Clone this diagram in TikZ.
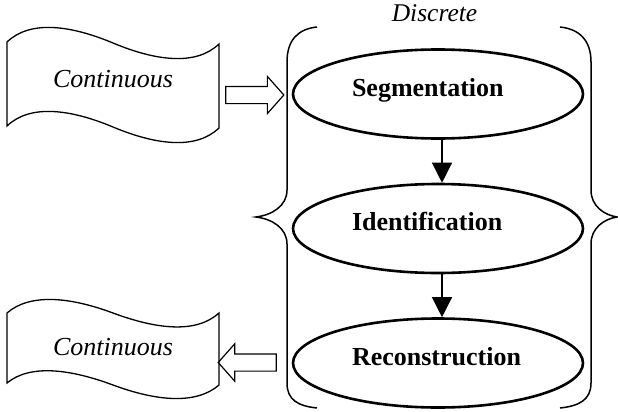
\documentclass[tikz,border=0pt]{standalone}
\usepackage{fontspec}
\setmainfont{Liberation Serif}
\usetikzlibrary{shapes.geometric,shapes.arrows,arrows.meta}

\begin{document}
\begin{tikzpicture}[x=1pt,y=-1pt]
  \tikzset{
    StageStyle/.style = { ellipse, draw, line width=2.6pt,
      minimum width=290pt, minimum height=89pt, inner sep=0pt,
      text width=172pt, align=left, text height=18pt, text depth=14pt,
      font=\fontsize{26}{30}\selectfont\bfseries },
    SignalStyle/.style = { anchor=base,
      font=\fontsize{26}{30}\selectfont\itshape },
    BlockArrowStyle/.style = { single arrow, draw, line width=1.2pt,
      minimum height=58pt, minimum width=0pt, inner xsep=0pt,
      inner ysep=8pt, text height=0pt, text depth=0pt,
      single arrow head extend=10pt, single arrow tip angle=97 },
    FlowStyle/.style = { line width=1.3pt,
      -{Triangle[length=20pt,width=20pt]} },
    WaveStyle/.style = { line width=1.3pt },
    BraceStyle/.style = { line width=1.5pt } }
  \useasboundingbox (0,0) rectangle (618,412);

  % continuous signals
  \draw[WaveStyle] (7,42) .. controls (30,20) and (70,25) .. (113,43)
    .. controls (156,61) and (196,66) .. (219,44) -- (219,128)
    .. controls (196,150) and (156,145) .. (113,127)
    .. controls (70,109) and (30,104) .. (7,126) -- cycle;
  \draw[WaveStyle] (7,313) .. controls (30,293) and (70,297) .. (113,313)
    .. controls (156,329) and (196,334) .. (219,313) -- (219,385)
    .. controls (196,405) and (156,401) .. (113,385)
    .. controls (70,369) and (30,364) .. (7,383) -- cycle;
  \node[SignalStyle] (topsignal) at (113,88) {Continuous};
  \node[SignalStyle] (bottomsignal) at (113,355) {Continuous};

  % discrete part
  \node[SignalStyle, font=\fontsize{25.5}{30}\selectfont\itshape] (discrete) at (434.5,22) {Discrete};
  \draw[BraceStyle] (317,27) .. controls (298,29) and (287,40) .. (287,62)
    -- (287,190) .. controls (287,206) and (272,215) .. (256,217)
    .. controls (272,219) and (287,228) .. (287,244)
    -- (287,383) .. controls (287,400) and (298,406) .. (317,408);
  \draw[BraceStyle] (560,27) .. controls (579,29) and (591,40) .. (591,62)
    -- (591,190) .. controls (591,206) and (604,215) .. (617,217)
    .. controls (604,219) and (591,228) .. (591,244)
    -- (591,383) .. controls (591,400) and (579,406) .. (560,408);

  \node[StageStyle] (seg) at (438,94) {Segmentation};
  \node[StageStyle] (ident) at (438,228.5) {Identification};
  \node[StageStyle] (recon) at (438,363) {Reconstruction};

  \draw[FlowStyle] ([xshift=4pt]seg.south) -- ([xshift=4pt]ident.north);
  \draw[FlowStyle] ([xshift=4pt]ident.south) -- ([xshift=4pt]recon.north);

  \node[BlockArrowStyle] (inarrow) at (251,95) {};
  \node[BlockArrowStyle, shape border rotate=180] (outarrow) at (251,362.5) {};
\end{tikzpicture}
\end{document}
